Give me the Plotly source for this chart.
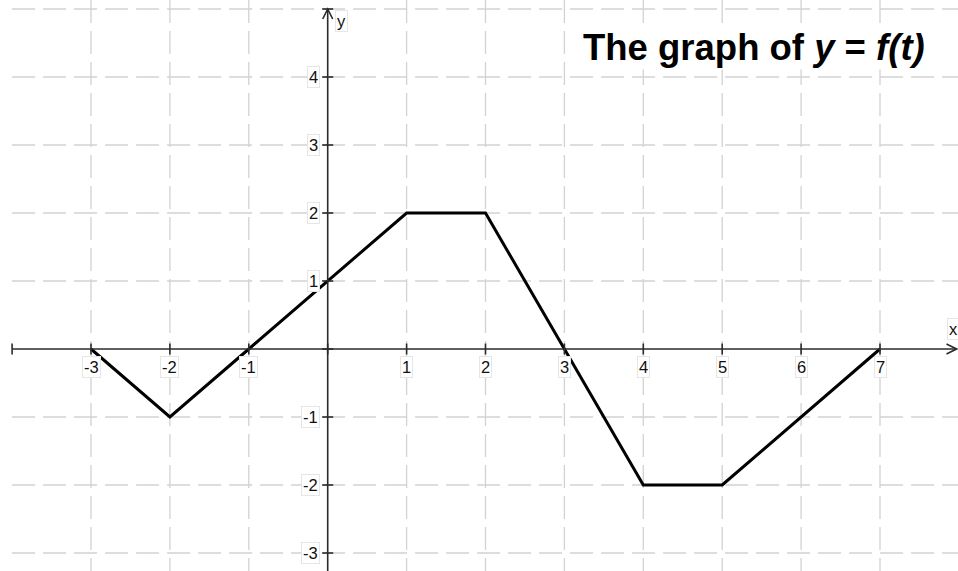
import plotly.graph_objects as go

# Piecewise-linear function y = f(t), given by its corner points
t_vals = [-3, -2, -1, 1, 2, 3, 4, 5, 7]
f_vals = [0, -1, 0, 2, 2, 0, -2, -2, 0]

# Tick values and labels along each axis
x_ticks = [-3, -2, -1, 1, 2, 3, 4, 5, 6, 7]
x_tick_labels = ["-3", "-2", "-1", "1", "2", "3", "4", "5", "6", "7"]
y_ticks = [-3, -2, -1, 1, 2, 3, 4]
y_tick_labels = ["-3", "-2", "-1", "1", "2", "3", "4"]

# Grid positions and tick-mark positions
x_grid = [-3, -2, -1, 1, 2, 3, 4, 5, 6, 7]
y_grid = [-3, -2, -1, 1, 2, 3, 4, 5]
x_marks = [-4, -3, -2, -1, 0, 1, 2, 3, 4, 5, 6, 7]
y_marks = [-3, -2, -1, 0, 1, 2, 3, 4, 5]

W, H = 958, 571
X_RANGE = [-4.1534, 7.9886]
Y_RANGE = [-3.2647, 5.1324]
ppx = W / (X_RANGE[1] - X_RANGE[0])
ppy = H / (Y_RANGE[1] - Y_RANGE[0])

AXIS_COLOR = "#2b2b2b"
GRID_COLOR = "#d2d2d2"
GRID_DASH = "23px,8px"
LABEL_FONT = dict(family="Liberation Sans, Arial, sans-serif", size=16.5, color="#111111")

shapes = []

# dashed grid
for gx in x_grid:
    shapes.append(dict(type="line", xref="x", yref="y", x0=gx, x1=gx,
                       y0=Y_RANGE[1], y1=Y_RANGE[0],
                       line=dict(color=GRID_COLOR, width=1.3, dash=GRID_DASH), layer="below"))
for gy in y_grid:
    shapes.append(dict(type="line", xref="x", yref="y", x0=-4, x1=X_RANGE[1],
                       y0=gy, y1=gy,
                       line=dict(color=GRID_COLOR, width=1.3, dash=GRID_DASH), layer="below"))

# axes
x_end = X_RANGE[1] - 1.5 / ppx
y_end = 5
shapes.append(dict(type="line", xref="x", yref="y", x0=-4, x1=x_end, y0=0, y1=0,
                   line=dict(color=AXIS_COLOR, width=1.6)))
shapes.append(dict(type="line", xref="x", yref="y", x0=0, x1=0, y0=Y_RANGE[0], y1=y_end,
                   line=dict(color=AXIS_COLOR, width=1.6)))

# arrowheads
ah_len, ah_half = 10, 5
shapes.append(dict(type="path", xref="x", yref="y",
                   path=f"M {x_end - ah_len / ppx},{ah_half / ppy} L {x_end},0 L {x_end - ah_len / ppx},{-ah_half / ppy}",
                   line=dict(color=AXIS_COLOR, width=1.6)))
shapes.append(dict(type="path", xref="x", yref="y",
                   path=f"M {-ah_half / ppx},{y_end - ah_len / ppy} L 0,{y_end} L {ah_half / ppx},{y_end - ah_len / ppy}",
                   line=dict(color=AXIS_COLOR, width=1.6)))

# tick marks
tk = 5.5
for mx in x_marks:
    shapes.append(dict(type="line", xref="x", yref="y", x0=mx, x1=mx,
                       y0=-tk / ppy, y1=tk / ppy, line=dict(color=AXIS_COLOR, width=1.6)))
for my in y_marks:
    shapes.append(dict(type="line", xref="x", yref="y", x0=-tk / ppx, x1=tk / ppx,
                       y0=my, y1=my, line=dict(color=AXIS_COLOR, width=1.6)))

annotations = []
box = dict(bgcolor="white", bordercolor="#e6e6e6", borderwidth=1, borderpad=1)
for v, lab in zip(x_ticks, x_tick_labels):
    annotations.append(dict(x=v, y=0, xref="x", yref="y", text=lab, showarrow=False,
                            yshift=-18, font=LABEL_FONT, **box))
for v, lab in zip(y_ticks, y_tick_labels):
    annotations.append(dict(x=0, y=v, xref="x", yref="y", text=lab, showarrow=False,
                            xanchor="right", xshift=-8, font=LABEL_FONT, **box))

# axis names
annotations.append(dict(x=x_end, y=0, xref="x", yref="y", text="x", showarrow=False,
                        xshift=-3, yshift=20, font=LABEL_FONT, **box))
annotations.append(dict(x=0, y=y_end, xref="x", yref="y", text="y", showarrow=False,
                        xshift=14, yshift=-12, font=LABEL_FONT, **box))

# title
annotations.append(dict(x=927 / W, y=1 - 47 / H, xref="paper", yref="paper",
                        xanchor="right", yanchor="middle", showarrow=False,
                        text="<b>The graph of <i>y</i> = <i>f(t)</i></b>",
                        font=dict(family="Liberation Sans, Arial, sans-serif", size=36.5, color="black"),
                        bgcolor="white"))

fig = go.Figure()
fig.add_trace(go.Scatter(x=t_vals, y=f_vals, mode="lines",
                         line=dict(color="black", width=3), hoverinfo="skip"))

fig.update_layout(
    width=W, height=H,
    margin=dict(l=0, r=0, t=0, b=0),
    paper_bgcolor="white", plot_bgcolor="white",
    showlegend=False,
    xaxis=dict(range=X_RANGE, visible=False, fixedrange=True),
    yaxis=dict(range=Y_RANGE, visible=False, fixedrange=True),
    shapes=shapes,
    annotations=annotations,
)

fig.write_html("out.html")
